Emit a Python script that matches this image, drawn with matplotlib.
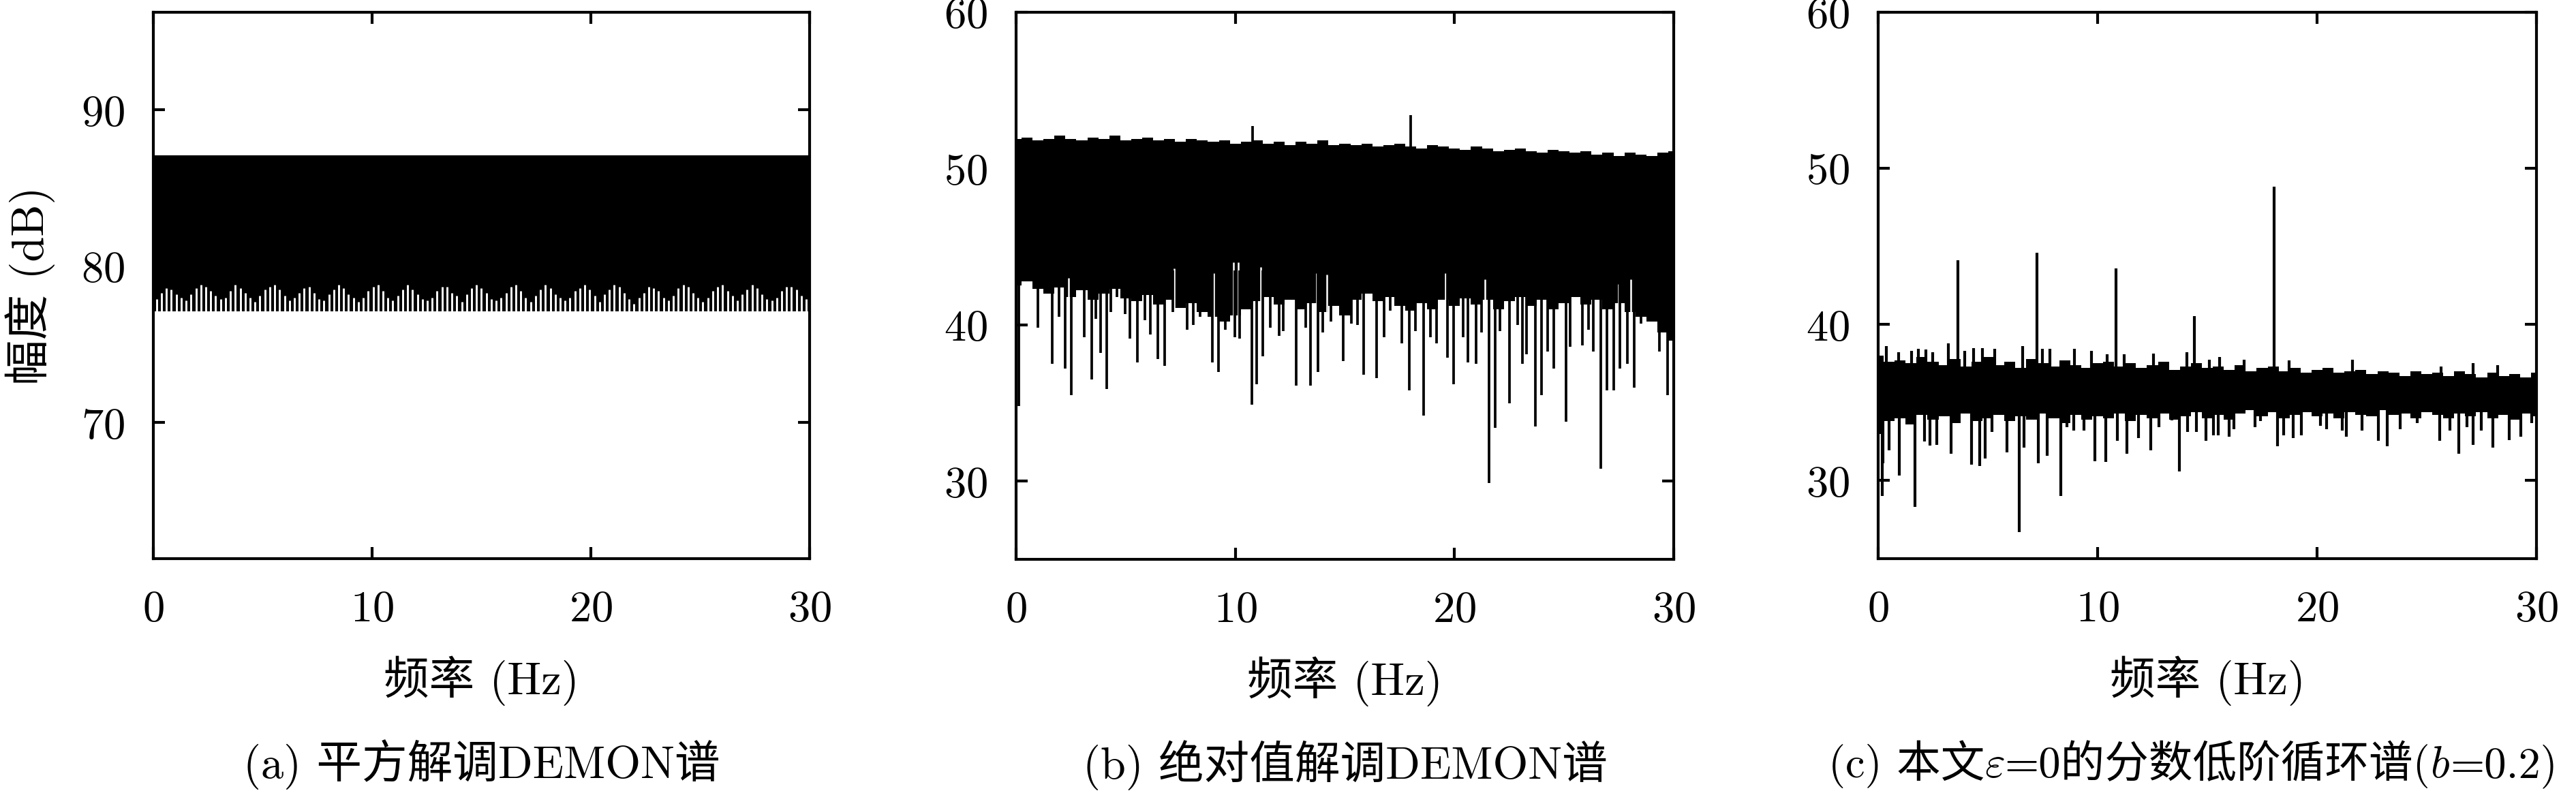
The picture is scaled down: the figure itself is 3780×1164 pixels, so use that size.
import matplotlib
matplotlib.use("Agg")
import matplotlib.pyplot as plt
from matplotlib.offsetbox import TextArea, HPacker, AnnotationBbox
import numpy as np

plt.rcParams['font.family'] = ['cmr10', 'Noto Sans CJK SC']
plt.rcParams['mathtext.fontset'] = 'cm'
plt.rcParams['axes.formatter.use_mathtext'] = True
plt.rcParams['axes.unicode_minus'] = False

# ---- (a) square-law DEMON spectrum: dense band with white notches at the bottom
a_band_top = 87.1
a_band_bottom = 77.1
a_notch_top = [
    77.9, 78.3, 78.6, 78.5, 78.2, 78.0, 77.8,
    78.2, 78.6, 78.8, 78.7, 78.4, 78.1, 77.9,
    78.0, 78.4, 78.8, 78.6, 78.3, 78.0, 77.7,
    78.1, 78.5, 78.7, 78.8, 78.5, 78.1, 77.8,
    78.0, 78.3, 78.6, 78.7, 78.3, 77.9, 77.8,
    78.2, 78.5, 78.8, 78.6, 78.2, 78.0, 77.7,
    78.0, 78.4, 78.7, 78.8, 78.4, 78.0, 77.8,
    78.1, 78.5, 78.8, 78.5, 78.2, 77.9, 77.8,
    78.0, 78.4, 78.7, 78.7, 78.3, 78.1, 77.7,
    78.2, 78.6, 78.8, 78.6, 78.3, 77.9, 77.8,
    78.0, 78.3, 78.7, 78.8, 78.4, 78.0, 77.7,
    78.1, 78.5, 78.8, 78.6, 78.2, 78.0, 77.8,
    78.0, 78.4, 78.6, 78.8, 78.5, 78.1, 77.7,
    78.2, 78.5, 78.8, 78.7, 78.3, 77.9, 77.6,
    78.0, 78.3, 78.7, 78.6, 78.4, 78.0, 77.8,
    78.1, 78.6, 78.8, 78.7, 78.3, 78.0, 77.7,
    78.0, 78.4, 78.7, 78.8, 78.4, 78.1, 77.8,
    78.2, 78.5, 78.8, 78.6, 78.2, 77.9, 77.8,
    78.0, 78.4, 78.7, 78.7, 78.5, 78.1, 77.9,
]

# ---- (b) absolute-value DEMON spectrum, envelope on a 0.5 Hz grid
b_upper = [
    51.9, 52.0, 51.8, 51.9, 52.1, 51.9, 51.8, 52.0, 51.9, 52.1, 51.8,
    51.9, 52.0, 51.8, 51.9, 51.7, 51.9, 51.8, 51.7, 51.8, 51.6,
    51.7, 51.8, 51.6, 51.7, 51.5, 51.7, 51.6, 51.8, 51.5, 51.6,
    51.5, 51.6, 51.4, 51.5, 51.6, 51.4, 51.3, 51.5, 51.4, 51.3,
    51.2, 51.4, 51.3, 51.1, 51.2, 51.3, 51.1, 51.0, 51.2, 51.1,
    51.0, 51.1, 50.9, 51.0, 50.8, 51.0, 50.9, 50.8, 51.0, 51.1,
]
b_lower = [
    42.5, 42.8, 42.3, 42.0, 42.4, 41.8, 42.2, 41.6, 42.0, 42.3, 41.7,
    41.5, 41.9, 41.3, 41.6, 41.1, 41.4, 40.8, 40.5, 40.2, 40.6,
    41.0, 41.5, 41.8, 41.3, 41.6, 41.0, 41.4, 40.8, 41.2, 40.6,
    41.6, 42.0, 41.5, 41.8, 41.2, 40.9, 41.4, 41.0, 41.6, 41.2,
    41.7, 41.3, 41.6, 41.0, 41.5, 41.8, 41.2, 41.6, 41.0, 41.4,
    41.8, 41.3, 41.6, 41.0, 41.4, 40.8, 40.5, 40.2, 39.5, 39.0,
]
b_peak_x = [10.79, 18.0]
b_peak_top = [52.7, 53.4]
b_dip_x = [0.12, 1.00, 1.66, 1.96, 2.25, 2.53, 3.11, 3.46, 3.63, 3.84,
           4.12, 4.32, 4.60, 4.97, 5.18, 5.54, 5.88, 6.13, 6.48, 6.78,
           7.15, 7.46, 7.79, 8.08, 8.39, 8.96, 9.23, 9.53, 9.98, 10.21,
           10.75, 10.97, 11.24, 11.60, 11.99, 12.18, 12.77, 13.21, 13.42, 13.78,
           13.99, 14.37, 14.92, 15.30, 15.59, 15.87, 16.44, 16.80, 17.06, 17.60,
           17.95, 18.23, 18.59, 18.91, 19.18, 19.67, 19.96, 20.38, 20.62, 21.00,
           21.23, 21.57, 21.85, 22.06, 22.51, 22.87, 23.10, 23.28, 23.68, 23.96,
           24.25, 24.53, 25.10, 25.26, 25.83, 26.11, 26.32, 26.68, 26.96, 27.27,
           27.55, 27.89, 28.20, 28.50, 28.88, 29.35, 29.73]
b_dip_bottom = [34.8, 39.8, 37.5, 40.5, 37.2, 35.5, 39.2, 36.5, 40.4, 38.2,
                35.9, 40.8, 41.8, 40.7, 39.1, 37.6, 40.3, 39.4, 37.8, 37.4,
                40.8, 41.3, 39.7, 40.0, 40.5, 37.6, 37.0, 39.7, 39.2, 39.1,
                34.9, 36.2, 38.0, 39.8, 39.3, 39.6, 36.1, 39.8, 36.1, 37.0,
                39.5, 40.2, 37.7, 40.1, 40.0, 36.8, 36.6, 39.2, 40.9, 38.8,
                35.8, 39.6, 34.2, 39.2, 38.8, 37.9, 36.2, 39.2, 37.6, 37.5,
                39.5, 29.9, 33.4, 39.6, 35.0, 40.0, 37.5, 38.1, 33.5, 35.5,
                38.3, 37.2, 33.8, 38.6, 38.7, 39.7, 38.3, 30.8, 35.8, 35.8,
                37.2, 37.5, 36.0, 40.1, 40.2, 38.3, 35.5]
b_notch_x = [2.39, 7.21, 9.03, 9.92, 10.12, 11.16, 13.70, 14.17, 19.60, 21.40, 27.48, 28.05]
b_notch_top = [43.0, 43.6, 43.3, 44.0, 44.0, 43.7, 43.3, 43.2, 43.3, 42.9, 42.6, 42.9]

# ---- (c) fractional lower-order cyclic spectrum, envelope on a 0.5 Hz grid
c_upper = [
    38.0, 37.6, 37.7, 37.5, 37.9, 37.6, 37.4, 37.8, 37.3, 37.6, 37.9,
    37.4, 37.6, 37.2, 37.8, 37.5, 37.3, 37.7, 37.4, 37.2, 37.5,
    37.6, 37.3, 37.5, 37.2, 37.4, 37.6, 37.1, 37.3, 37.5, 37.2,
    37.3, 37.1, 37.4, 37.0, 37.2, 37.3, 37.0, 37.2, 36.9, 37.1,
    37.2, 36.9, 37.0, 37.1, 36.8, 37.0, 36.9, 36.7, 37.0, 36.8,
    36.9, 36.7, 37.0, 36.8, 36.6, 36.9, 36.7, 36.8, 36.6, 36.9,
]
c_lower = [
    33.0, 33.8, 34.0, 33.6, 34.2, 33.9, 34.1, 33.7, 34.3, 33.8, 34.0,
    34.2, 33.8, 34.1, 33.9, 34.3, 34.0, 33.7, 34.2, 33.9, 34.1,
    34.0, 34.3, 33.8, 34.2, 34.0, 34.3, 33.9, 34.1, 34.4, 34.0,
    34.2, 33.9, 34.3, 34.5, 34.1, 34.4, 34.0, 34.2, 34.4, 34.1,
    34.3, 34.0, 34.4, 34.2, 34.1, 34.5, 34.2, 34.3, 34.0, 34.4,
    34.2, 34.0, 34.3, 34.1, 34.4, 34.0, 34.2, 33.9, 34.3, 34.1,
]
c_peak_x = [3.62, 7.23, 10.83, 14.42, 18.03]
c_peak_top = [44.1, 44.6, 43.6, 40.55, 48.8]
c_bump_x = [0.38, 0.93, 1.52, 1.83, 2.17, 2.48, 3.20, 3.95, 4.34, 4.76,
            5.30, 6.59, 7.47, 7.83, 8.95, 9.72, 10.42, 11.20, 12.55, 14.06,
            15.10, 15.55, 16.69, 18.73, 21.60, 25.64, 27.12, 28.23]
c_bump_top = [38.6, 38.2, 38.3, 38.45, 38.4, 38.2, 38.8, 38.3, 38.5, 38.5,
              38.45, 38.6, 38.45, 38.45, 38.45, 38.3, 38.1, 38.1, 38.15, 38.2,
              37.75, 37.9, 37.75, 37.7, 37.75, 37.3, 37.5, 37.4]
c_dip_x = [0.18, 0.23, 0.49, 0.95, 1.68, 2.11, 2.35, 2.66, 3.33, 4.26,
           4.63, 4.87, 5.20, 5.87, 6.44, 6.65, 7.29, 7.71, 8.32, 8.59,
           8.92, 9.39, 9.88, 10.37, 10.89, 11.33, 11.87, 12.41, 12.80, 13.37,
           13.74, 14.10, 14.49, 14.95, 15.27, 15.50, 15.99, 16.22, 17.17, 17.41,
           18.21, 18.48, 18.91, 19.28, 20.16, 20.43, 21.14, 21.34, 22.05, 22.80,
           23.21, 23.80, 24.56, 25.59, 26.06, 26.47, 26.83, 27.11, 27.48, 28.02,
           28.75, 29.27, 29.78]
c_dip_bottom = [29.0, 31.1, 31.95, 30.3, 28.3, 32.5, 32.25, 32.3, 31.7, 31.0,
                30.95, 31.4, 33.1, 31.8, 26.7, 32.1, 31.1, 31.6, 29.0, 33.4,
                33.2, 33.2, 31.25, 31.2, 32.55, 31.7, 32.7, 31.95, 33.4, 33.85,
                30.6, 33.1, 33.1, 32.55, 32.9, 32.9, 32.8, 33.3, 33.4, 33.8,
                32.2, 32.9, 32.7, 32.9, 33.5, 33.3, 33.2, 32.8, 33.2, 32.55,
                32.2, 33.3, 33.7, 32.55, 33.2, 31.7, 33.4, 32.3, 33.2, 32.1,
                32.6, 32.8, 33.7]

x_ticks = [0, 10, 20, 30]
grid_step = 0.5

captions = ['(a) 平方解调DEMON谱', '(b) 绝对值解调DEMON谱']
# caption (c) mixes CJK text and italic math symbols, built from pieces
caption_c_parts = ['(c) 本文', r'$\varepsilon$', '=0的分数低阶循环谱(', r'$b$', '=0.2)']

fig = plt.figure(figsize=(12.6, 3.8833), dpi=300)
ax_a = fig.add_axes([0.05952, 0.29528, 0.25476, 0.68876])
ax_b = fig.add_axes([0.39444, 0.29442, 0.25529, 0.68930])
ax_c = fig.add_axes([0.72910, 0.29528, 0.25556, 0.68876])

# (a)
ax_a.fill_between([0, 30], [a_band_bottom] * 2, [a_band_top] * 2, color='black', lw=0)
a_x = np.linspace(0.15, 29.85, len(a_notch_top))
ax_a.vlines(a_x, 76.5, a_notch_top, color='white', lw=0.7)
ax_a.set_ylim(61.3, 96.25)
ax_a.set_yticks([70, 80, 90])

# (b)
b_grid = np.arange(len(b_upper)) * grid_step
ax_b.fill_between(b_grid, b_lower, b_upper, step='mid', color='black', lw=0)
ax_b.vlines(b_notch_x, 39.5, b_notch_top, color='white', lw=0.6)
ax_b.vlines(b_dip_x, b_dip_bottom, 43.5, color='black', lw=0.9)
ax_b.vlines(b_peak_x, 50.5, b_peak_top, color='black', lw=0.9)
ax_b.set_ylim(25, 60)
ax_b.set_yticks([30, 40, 50, 60])

# (c)
c_grid = np.arange(len(c_upper)) * grid_step
ax_c.fill_between(c_grid, c_lower, c_upper, step='mid', color='black', lw=0)
ax_c.vlines(c_bump_x, 36.5, c_bump_top, color='black', lw=1.0)
ax_c.vlines(c_dip_x, c_dip_bottom, 35.0, color='black', lw=1.0)
ax_c.vlines(c_peak_x, 36.0, c_peak_top, color='black', lw=1.0)
ax_c.set_ylim(25, 60)
ax_c.set_yticks([30, 40, 50, 60])

for ax in [ax_a, ax_b, ax_c]:
    ax.set_xlim(0, 30)
    ax.set_xticks(x_ticks)
    ax.tick_params(direction='in', top=True, right=True, length=4, width=1.0,
                   labelsize=15.5)
    ax.tick_params(axis='x', pad=11)
    ax.tick_params(axis='y', pad=10)
    for sp in ax.spines.values():
        sp.set_linewidth(1.0)
    ax.set_xlabel('频率 (Hz)', fontsize=16, va='center')
    ax.xaxis.set_label_coords(0.5, -0.222)

for ax, cap in zip([ax_a, ax_b], captions):
    ax.text(0.5, -0.375, cap, transform=ax.transAxes, ha='center', va='center',
            fontsize=16)

pieces = [TextArea(p, textprops=dict(fontsize=15.5)) for p in caption_c_parts]
cap_box = HPacker(children=pieces, align='baseline', pad=0, sep=0)
ab = AnnotationBbox(cap_box, (0.478, -0.375), xycoords='axes fraction',
                    frameon=False, box_alignment=(0.5, 0.5), annotation_clip=False)
ax_c.add_artist(ab)

ax_a.set_ylabel('幅度 (dB)', fontsize=16, va='center')
ax_a.yaxis.set_label_coords(-0.188, 0.5)

fig.savefig('out.png', dpi=300)
